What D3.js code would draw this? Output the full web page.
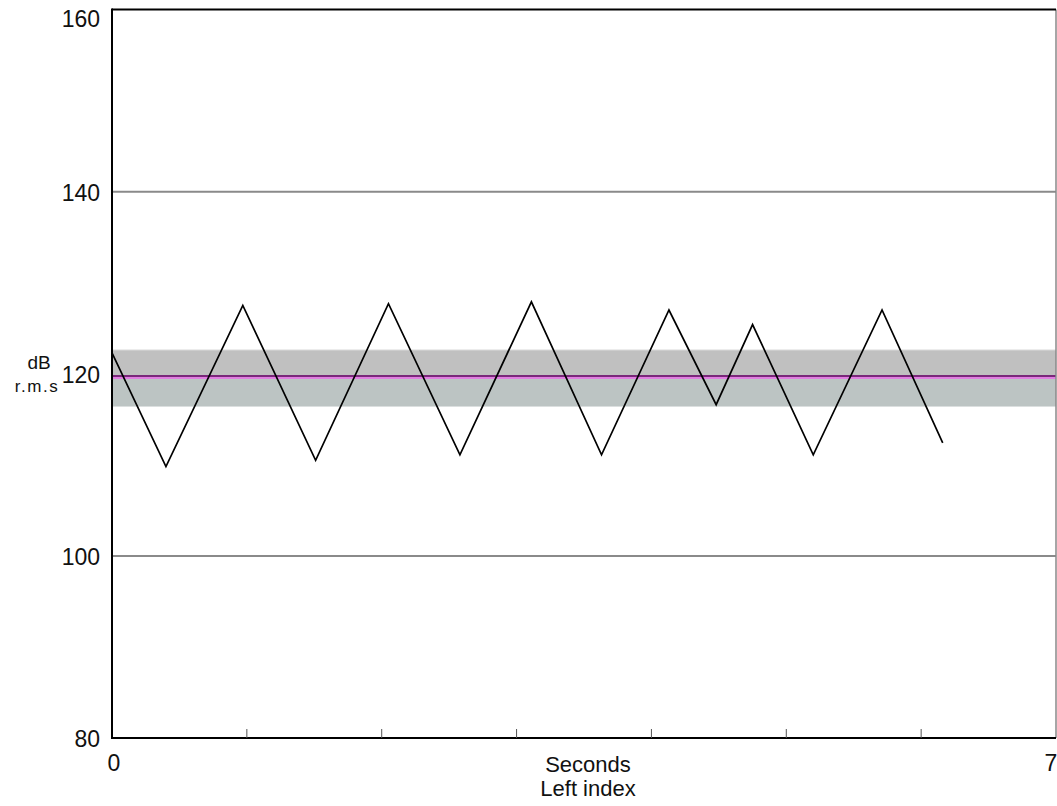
<!DOCTYPE html>
<html>
<head>
<meta charset="utf-8">
<script src="https://cdn.jsdelivr.net/npm/d3@7"></script>
<style>
  body { margin: 0; background: #fff; }
  text { font-family: "Liberation Sans", Arial, sans-serif; fill: #111; }
</style>
</head>
<body>
<script>
// level trace (seconds, dB)
var times  = [0, 0.40, 0.97, 1.51, 2.05, 2.58, 3.11, 3.63, 4.13, 4.48, 4.75, 5.20, 5.71, 6.16];
var levels = [122.3, 109.8, 127.5, 110.5, 127.7, 111.1, 127.9, 111.1, 127.0, 116.6, 125.4, 111.1, 127.0, 112.4];

var yTicks = [80, 100, 120, 140, 160];
var gridValues = [100, 140];
var xMinorTicks = [1, 2, 3, 4, 5, 6];
var meanLevel = 119.7;
var bandLow = 116.4, bandHigh = 122.6;

var W = 1057, H = 806;
var plotLeft = 112, plotRight = 1056, plotTop = 9.5, plotBottom = 738;

var x = d3.scaleLinear().domain([0, 7]).range([plotLeft, plotRight]);
var y = d3.scaleLinear().domain([80, 160]).range([plotBottom, plotTop]);

var svg = d3.select("body").append("svg")
    .attr("width", W)
    .attr("height", H);

// tolerance band
svg.append("rect")
    .attr("x", plotLeft).attr("width", plotRight - plotLeft)
    .attr("y", y(bandHigh)).attr("height", y(meanLevel) - y(bandHigh))
    .attr("fill", "#c0c0c0");
svg.append("rect")
    .attr("x", plotLeft).attr("width", plotRight - plotLeft)
    .attr("y", y(meanLevel)).attr("height", y(bandLow) - y(meanLevel))
    .attr("fill", "#bcc4c3");
svg.append("line")
    .attr("x1", plotLeft).attr("x2", plotRight)
    .attr("y1", y(bandHigh)).attr("y2", y(bandHigh))
    .attr("stroke", "#d4d4d4").attr("stroke-width", 1);

// grid
svg.append("g").selectAll("line")
    .data(gridValues)
    .enter().append("line")
    .attr("x1", plotLeft).attr("x2", plotRight)
    .attr("y1", (d) => y(d)).attr("y2", (d) => y(d))
    .attr("stroke", "#8a8a8a").attr("stroke-width", 2);

// mean level line
svg.append("line")
    .attr("x1", plotLeft).attr("x2", plotRight)
    .attr("y1", y(meanLevel) - 0.5).attr("y2", y(meanLevel) - 0.5)
    .attr("stroke", "#7a287a").attr("stroke-width", 2);
svg.append("line")
    .attr("x1", plotLeft).attr("x2", plotRight)
    .attr("y1", y(meanLevel) + 1.5).attr("y2", y(meanLevel) + 1.5)
    .attr("stroke", "#e07ee0").attr("stroke-width", 2);

// trace
var data = times.map((t, i) => ({t: t, v: levels[i]}));
svg.append("path")
    .datum(data)
    .attr("d", d3.line().x((d) => x(d.t)).y((d) => y(d.v)))
    .attr("fill", "none")
    .attr("stroke", "#000")
    .attr("stroke-width", 1.7);

// frame
svg.append("line").attr("x1", plotRight).attr("x2", plotRight).attr("y1", plotTop).attr("y2", plotBottom)
    .attr("stroke", "#888").attr("stroke-width", 1.5);
svg.append("line").attr("x1", plotLeft).attr("x2", plotRight).attr("y1", plotTop).attr("y2", plotTop)
    .attr("stroke", "#000").attr("stroke-width", 2);
svg.append("line").attr("x1", plotLeft).attr("x2", plotRight).attr("y1", plotBottom).attr("y2", plotBottom)
    .attr("stroke", "#000").attr("stroke-width", 2);
svg.append("line").attr("x1", plotLeft).attr("x2", plotLeft).attr("y1", plotTop - 1).attr("y2", plotBottom + 1)
    .attr("stroke", "#000").attr("stroke-width", 2);

// x ticks
svg.append("g").selectAll("line")
    .data(xMinorTicks)
    .enter().append("line")
    .attr("x1", (d) => x(d)).attr("x2", (d) => x(d))
    .attr("y1", plotBottom - 9).attr("y2", plotBottom)
    .attr("stroke", "#555").attr("stroke-width", 1);

// y labels
svg.append("g").selectAll("text")
    .data(yTicks)
    .enter().append("text")
    .attr("x", 100)
    .attr("y", (d) => d == 160 ? y(d) + 9 : y(d) + 1)
    .attr("text-anchor", "end")
    .attr("dominant-baseline", "central")
    .style("font-size", "23px")
    .text((d) => d);

svg.append("text").attr("x", 39).attr("y", 362)
    .attr("text-anchor", "middle").attr("dominant-baseline", "central")
    .style("font-size", "19px").text("dB");
svg.append("text").attr("x", 37).attr("y", 386)
    .attr("text-anchor", "middle").attr("dominant-baseline", "central")
    .style("font-size", "17px").style("letter-spacing", "1.5px").text("r.m.s");

// x labels
svg.append("text").attr("x", x(0) + 2).attr("y", 763)
    .attr("text-anchor", "middle").attr("dominant-baseline", "central")
    .style("font-size", "23px").text("0");
svg.append("text").attr("x", x(7) - 5).attr("y", 763)
    .attr("text-anchor", "middle").attr("dominant-baseline", "central")
    .style("font-size", "23px").text("7");
svg.append("text").attr("x", 588).attr("y", 764)
    .attr("text-anchor", "middle").attr("dominant-baseline", "central")
    .style("font-size", "22px").text("Seconds");
svg.append("text").attr("x", 588).attr("y", 788)
    .attr("text-anchor", "middle").attr("dominant-baseline", "central")
    .style("font-size", "22px").text("Left index");
</script>
</body>
</html>
